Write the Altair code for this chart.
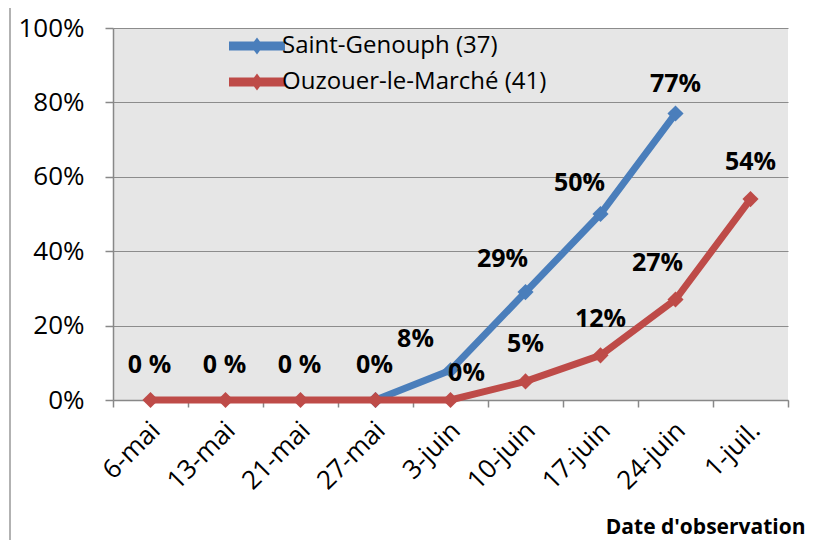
import altair as alt
import pandas as pd

# ---- data ----
dates = ["6-mai", "13-mai", "21-mai", "27-mai", "3-juin", "10-juin", "17-juin", "24-juin", "1-juil."]
series_names = ["Saint-Genouph (37)", "Ouzouer-le-Marché (41)"]
saint_genouph = [None, None, None, 0.0, 0.08, 0.29, 0.50, 0.77, None]
ouzouer = [0.0, 0.0, 0.0, 0.0, 0.0, 0.05, 0.12, 0.27, 0.54]
saint_labels = ["", "", "", "0%", "8%", "29%", "50%", "77%", ""]
ouzouer_labels = ["0 %", "0 %", "0 %", "", "0%", "5%", "12%", "27%", "54%"]
y_ticks = [0, 0.2, 0.4, 0.6, 0.8, 1.0]
colors = ["#4A7EBB", "#BE4B48"]

rows = []
for s, vals, labs in [(series_names[0], saint_genouph, saint_labels),
                      (series_names[1], ouzouer, ouzouer_labels)]:
    for d, v, l in zip(dates, vals, labs):
        if v is not None:
            rows.append({"date": d, "value": v, "series": s, "label": l})
df = pd.DataFrame(rows)

FONT = "Open Sans"
FS = 26

# label offsets (styling), keyed by series / date
offsets = {
    (series_names[0], "27-mai"): (-1, -35),
    (series_names[0], "3-juin"): (-35, -31),
    (series_names[0], "10-juin"): (-23, -33),
    (series_names[0], "17-juin"): (-21, -31),
    (series_names[0], "24-juin"): (0, -30),
    (series_names[1], "6-mai"): (-1, -35),
    (series_names[1], "13-mai"): (-1, -35),
    (series_names[1], "21-mai"): (-1, -35),
    (series_names[1], "3-juin"): (16, -27),
    (series_names[1], "10-juin"): (0, -37),
    (series_names[1], "17-juin"): (0, -36),
    (series_names[1], "24-juin"): (-18, -37),
    (series_names[1], "1-juil."): (0, -37),
}

color_scale = alt.Scale(domain=series_names, range=colors)

x_enc = alt.X(
    "date:N", sort=dates, bandPosition=0.5,
    scale=alt.Scale(type="band", domain=dates, paddingInner=0, paddingOuter=0),
    axis=alt.Axis(
        title="Date d'observation", titleFont=FONT, titleFontSize=21, titleFontWeight="bold",
        titleColor="black", titleAlign="right", titleAnchor="end", titleX=692, titleY=133,
        titleBaseline="alphabetic", titleAngle=0,
        labelAngle=-45, labelAlign="right", labelBaseline="middle", labelFont=FONT,
        labelFontSize=FS, labelColor="black", labelPadding=19, labelOffset=5,
        tickBand="extent", tickSize=7, tickColor="#888888", tickWidth=1.5,
        domainColor="#888888", domainWidth=1.5, grid=False,
    ),
)
y_enc = alt.Y(
    "value:Q", scale=alt.Scale(domain=[0, 1]),
    axis=alt.Axis(
        title=None, values=y_ticks, format=".0%", labelFont=FONT, labelFontSize=FS,
        labelColor="black", labelPadding=21, tickSize=8, tickColor="#888888", tickWidth=1.5,
        domainColor="#888888", domainWidth=1.5, grid=True, gridColor="#8c8c8c", gridWidth=1.2,
    ),
)

legend_path = "M-3.11,-0.5H3.11V0.5H-3.11Z M0,-0.95L0.7,0L0,0.95L-0.7,0Z"
leg = alt.Legend(
    title=None, orient="none", legendX=132, legendY=6, padding=0,
    symbolType=legend_path, symbolSize=324, symbolStrokeWidth=0,
    labelFont=FONT, labelFontSize=24, labelColor="black", labelOffset=13,
    rowPadding=12, labelLimit=400,
)

layers = []
for i, s in enumerate(series_names):
    base = alt.Chart(df).transform_filter(alt.datum.series == s)
    line = base.mark_line(strokeWidth=7, strokeCap="round").encode(
        x=x_enc, y=y_enc,
        color=alt.Color("series:N", scale=color_scale, legend=leg),
    )
    pts = base.mark_point(filled=True, shape="diamond", size=260, opacity=1).encode(
        x=x_enc, y=y_enc,
        color=alt.Color("series:N", scale=color_scale, legend=leg),
    )
    layers += [line, pts]

for (s, d), (dx, dy) in offsets.items():
    t = alt.Chart(df).transform_filter(
        (alt.datum.series == s) & (alt.datum.date == d)
    ).mark_text(
        font=FONT, fontSize=25, fontWeight="bold", color="black", dx=dx, dy=dy,
        baseline="middle", align="center",
    ).encode(x=x_enc, y=y_enc, text="label:N")
    layers.append(t)

frame = alt.Chart(pd.DataFrame({"a": [0]})).mark_rule(color="#999999", strokeWidth=1.5).encode(
    x=alt.value(-103), y=alt.value(-28), y2=alt.value(519)
)
layers.append(frame)

chart = alt.layer(*layers).properties(
    width=675, height=372,
    autosize=alt.AutoSizeParams(type="none"),
    padding={"left": 105, "top": 20, "right": 22, "bottom": 140},
    background="white",
).configure_view(fill="#e6e6e6", stroke=None).configure_axisX(grid=False)

chart.save("out.html", embed_options={"renderer": "svg", "actions": False})
